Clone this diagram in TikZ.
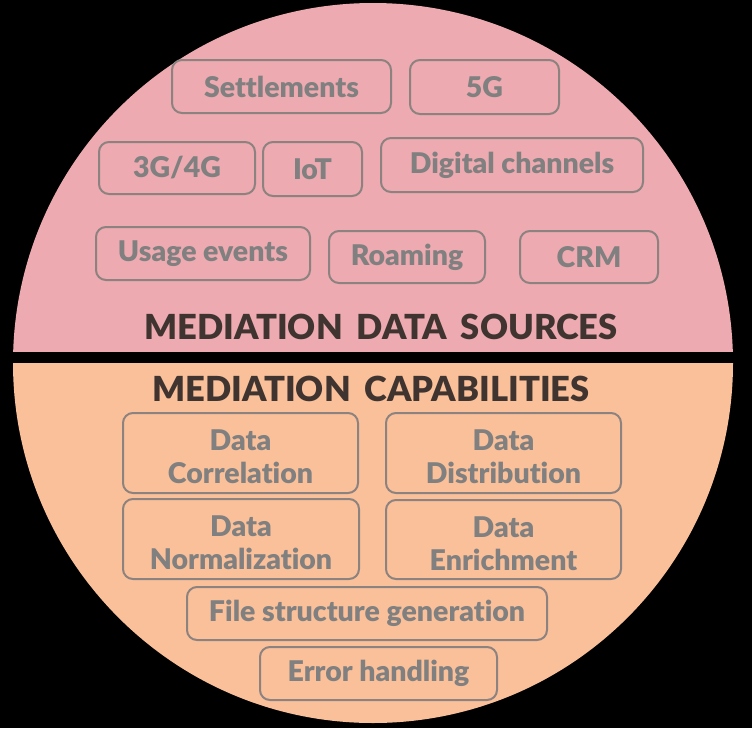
\documentclass[tikz,border=0pt]{standalone}
\usepackage{fontspec}
\setmainfont{Lato}[BoldFont={Lato Black}, Ligatures={NoCommon,NoRare,NoDiscretionary}]
\definecolor{pinkbg}{RGB}{237,170,176}
\definecolor{peachbg}{RGB}{250,192,154}
\definecolor{boxtext}{RGB}{128,128,128}
\definecolor{boxline}{RGB}{140,130,128}
\definecolor{headtext}{RGB}{64,52,48}
\tikzset{
  itembox/.style={draw=boxline, line width=2pt, rounded corners=10pt, inner sep=0pt,
    font=\fontsize{28.5}{33}\selectfont\bfseries, text=boxtext, align=center},
  itemtext/.style={inner sep=0pt, font=\fontsize{28.5}{33}\selectfont\bfseries, text=boxtext, align=center},
  heading/.style={font=\fontsize{34.5}{38}\selectfont\bfseries, text=headtext, inner sep=0pt},
}
\newcommand{\boxat}[6]{% name, x1, y1, x2, y2, text
  \node[itembox, minimum width={#4-#2}, minimum height={#5-#3}] (#1) at ({(#2+#4)/2},{(#3+#5)/2}) {#6};}
\newcommand{\boxtwo}[6]{% name, x1, y1, x2, y2, text (two lines)
  \node[itembox, minimum width={#4-#2}, minimum height={#5-#3}] (#1) at ({(#2+#4)/2},{(#3+#5)/2}) {};
  \node[itemtext] (#1-t) at ([yshift=-4pt]#1.center) {#6};}
\begin{document}
\begin{tikzpicture}[x=1pt,y=-1pt]
\fill[black] (0,0) rectangle (752,728);
\useasboundingbox (0,0) rectangle (752,728);
\begin{scope}
\clip (373,363) circle (360);
\fill[pinkbg] (0,0) rectangle (752,352);
\fill[peachbg] (0,363) rectangle (752,728);
\end{scope}
\boxat{settle}{172}{60}{391}{113}{Settlements}
\boxat{fiveg}{410}{60}{559}{114}{5G}
\boxat{threeg}{99}{142}{255}{194}{3G/4G}
\boxat{iot}{263}{142}{362}{196}{IoT}
\boxat{digital}{381}{138}{643}{192}{Digital channels}
\boxat{usage}{96}{227}{310}{280}{Usage events}
\boxat{roam}{329}{231}{485}{283}{Roaming}
\boxat{crm}{520}{231}{658}{283}{CRM}
\node[heading] (src) at (381,327) {MEDIATION\hspace{0.4em}DATA\hspace{0.4em}SOURCES};
\node[heading] (cap) at (371,389) {MEDIATION\hspace{0.4em}CAPABILITIES};
\boxtwo{corr}{123}{413}{358}{493}{Data\\Correlation}
\boxtwo{dist}{386}{413}{621}{493}{Data\\Distribution}
\boxtwo{norm}{123}{499}{359}{579}{Data\\Normalization}
\boxtwo{enrich}{386}{500}{621}{579}{Data\\Enrichment}
\boxat{file}{187}{587}{547}{640}{File structure generation}
\boxat{err}{260}{647}{497}{700}{Error handling}
\end{tikzpicture}
\end{document}
